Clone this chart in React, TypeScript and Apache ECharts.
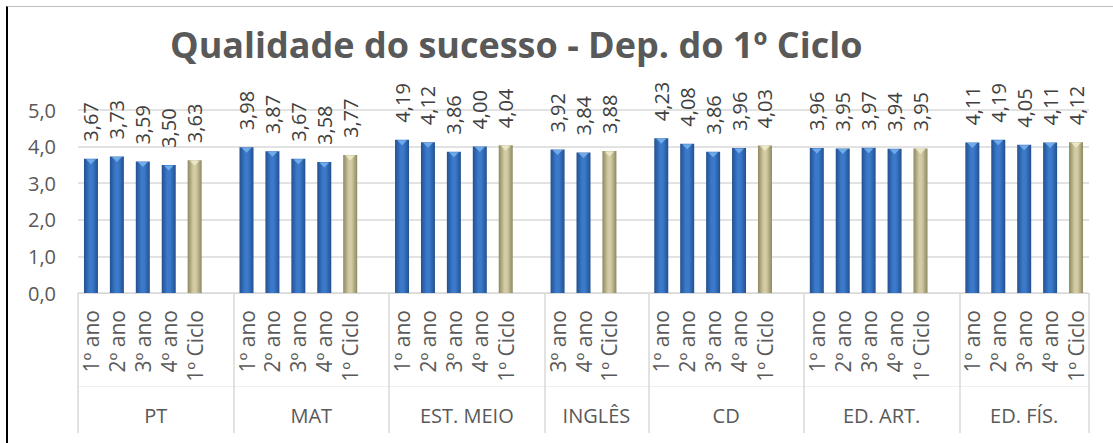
import React, { useEffect, useRef } from "react";
import * as echarts from "echarts";

const groupNames = ["PT", "MAT", "EST. MEIO", "INGLÊS", "CD", "ED. ART.", "ED. FÍS."];
const fullYears = ["1º ano", "2º ano", "3º ano", "4º ano", "1º Ciclo"];
const englishYears = ["3º ano", "4º ano", "1º Ciclo"];

const ptValues = [3.67, 3.73, 3.59, 3.5, 3.63];
const matValues = [3.98, 3.87, 3.67, 3.58, 3.77];
const estMeioValues = [4.19, 4.12, 3.86, 4.0, 4.04];
const inglesValues = [3.92, 3.84, 3.88];
const cdValues = [4.23, 4.08, 3.86, 3.96, 4.03];
const edArtValues = [3.96, 3.95, 3.97, 3.94, 3.95];
const edFisValues = [4.11, 4.19, 4.05, 4.11, 4.12];

const yTicks = [0, 1, 2, 3, 4, 5];

const groupYears = [fullYears, fullYears, fullYears, englishYears, fullYears, fullYears, fullYears];
const groupValues = [ptValues, matValues, estMeioValues, inglesValues, cdValues, edArtValues, edFisValues];

const FONT = "'Open Sans', 'Noto Sans', sans-serif";

export default function App() {
  const ref = useRef<HTMLDivElement>(null);

  useEffect(() => {
    if (!ref.current) return;
    const chart = echarts.init(ref.current, undefined, { renderer: "svg" });

    const categories: string[] = [];
    const values: any[] = [];
    const boundaries: number[] = [-0.5];
    const centers: number[] = [];
    groupNames.forEach((g, gi) => {
      const start = categories.length;
      groupYears[gi].forEach((y, i) => {
        categories.push(y);
        const isCycle = y === "1º Ciclo";
        values.push({
          value: groupValues[gi][i],
          itemStyle: {
            color: new echarts.graphic.LinearGradient(0, 0, 1, 0, isCycle
              ? [
                  { offset: 0, color: "#8d8860" },
                  { offset: 0.4, color: "#d2cba3" },
                  { offset: 0.6, color: "#d2cba3" },
                  { offset: 1, color: "#8d8860" },
                ]
              : [
                  { offset: 0, color: "#22508f" },
                  { offset: 0.4, color: "#3b7acb" },
                  { offset: 0.6, color: "#3b7acb" },
                  { offset: 1, color: "#22508f" },
                ]),
          },
          isCycle,
        });
      });
      if (gi < groupNames.length - 1) {
        categories.push("");
        values.push("-");
      }
      const end = categories.length - 1;
      boundaries.push(end + 0.5);
      centers.push((start - 0.5 + end + 0.5) / 2);
    });
    const maxIdx = categories.length - 0.5;

    const capData = values.map((v: any) =>
      typeof v === "object"
        ? { value: v.value, itemStyle: { color: v.isCycle ? "#f1ecd0" : "#7fb6f0" } }
        : "-"
    );

    chart.setOption({
      animation: false,
      backgroundColor: "transparent",
      title: {
        text: "Qualidade do sucesso - Dep. do 1º Ciclo",
        left: 165,
        top: 21,
        textStyle: {
          fontFamily: FONT,
          fontWeight: "bold",
          fontSize: 36,
          color: "#595959",
        },
      },
      grid: { left: 78, right: 24, top: 110, bottom: 150, containLabel: false },
      xAxis: [
        {
          type: "category",
          data: categories,
          axisLine: { show: true, lineStyle: { color: "#d9d9d9", width: 1 } },
          axisTick: { show: false },
          axisLabel: {
            interval: 0,
            rotate: 90,
            margin: 17,
            fontSize: 21,
            fontFamily: FONT,
            color: "#595959",
          },
          splitLine: { show: false },
        },
        {
          type: "value",
          position: "bottom",
          min: -0.5,
          max: maxIdx,
          axisLine: { show: false },
          splitLine: { show: false },
          axisTick: {
            show: true,
            customValues: boundaries,
            length: 140,
            lineStyle: { color: "#d9d9d9", width: 1.5 },
          },
          axisLabel: {
            show: true,
            customValues: centers,
            margin: 112,
            fontSize: 20,
            fontFamily: FONT,
            color: "#595959",
            formatter: (v: number) => {
              const idx = centers.findIndex((c) => Math.abs(c - v) < 1e-6);
              return idx >= 0 ? groupNames[idx] : "";
            },
          },
        },
        {
          type: "value",
          position: "bottom",
          offset: 93,
          min: -0.5,
          max: maxIdx,
          axisLine: { show: true, lineStyle: { color: "#efefef", width: 1 } },
          axisTick: { show: false },
          axisLabel: { show: false },
          splitLine: { show: false },
        },
      ],
      yAxis: {
        type: "value",
        min: yTicks[0],
        max: yTicks[yTicks.length - 1],
        interval: 1,
        axisLine: { show: false },
        axisTick: { show: false },
        splitLine: { lineStyle: { color: "#d9d9d9", width: 1.5 } },
        axisLabel: {
          margin: 22,
          fontSize: 20,
          fontFamily: FONT,
          color: "#595959",
          formatter: (v: number) => v.toFixed(1).replace(".", ","),
        },
      },
      series: [
        {
          type: "bar",
          xAxisIndex: 0,
          yAxisIndex: 0,
          data: values.map((v: any) => (typeof v === "object" ? { value: v.value, itemStyle: v.itemStyle } : v)),
          barWidth: 14,
          label: {
            show: true,
            position: "top",
            rotate: 90,
            align: "left",
            verticalAlign: "middle",
            distance: 17,
            fontSize: 20,
            fontFamily: FONT,
            color: "#404040",
            formatter: (p: any) => Number(p.value).toFixed(2).replace(".", ","),
          },
        },
        {
          type: "scatter",
          xAxisIndex: 0,
          yAxisIndex: 0,
          data: capData,
          symbol: "triangle",
          symbolRotate: 180,
          symbolSize: [10, 5],
          symbolOffset: [0, 3],
          silent: true,
          z: 3,
        },
      ],
    });

    return () => chart.dispose();
  }, []);

  return (
    <div style={{ position: "fixed", left: 0, top: 0, width: 1113, height: 443, background: "#fff", overflow: "hidden" }}>
      <div
        style={{
          position: "absolute",
          left: 6,
          top: 6,
          width: 1200,
          height: 600,
          borderLeft: "2px solid #000",
          borderTop: "1px solid #bfbfbf",
        }}
      />
      <div ref={ref} style={{ position: "absolute", left: 0, top: 0, width: 1113, height: 443 }} />
    </div>
  );
}
